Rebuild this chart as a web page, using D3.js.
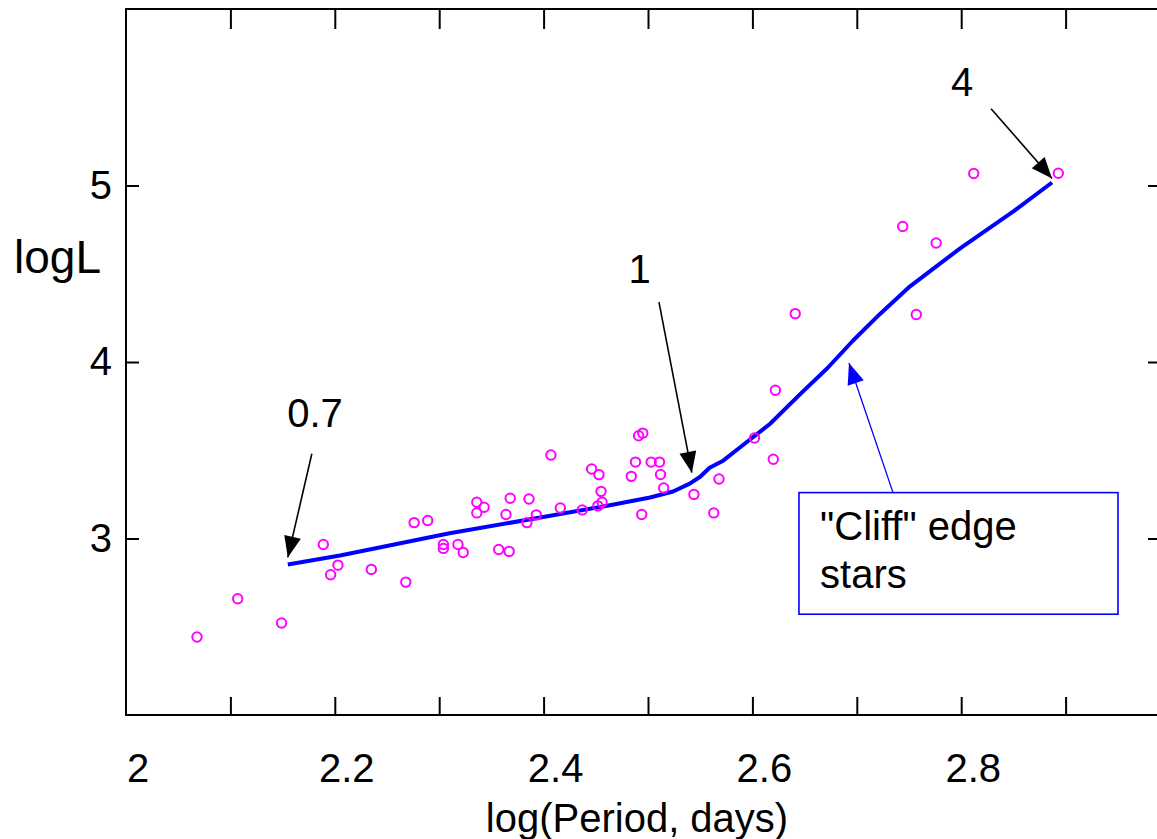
<!DOCTYPE html>
<html lang="en">
<head>
<meta charset="UTF-8">
<title>logL vs log(Period)</title>
<script src="https://d3js.org/d3.v7.min.js"></script>
<style>
  body { margin: 0; padding: 0; background: #fff; }
  svg { display: block; font-family: "Liberation Sans", Arial, Helvetica, sans-serif; }
</style>
</head>
<body>
<svg id="chart" width="1157" height="839"></svg>
<script>
// stars: log(Period, days) and logL
var starLogP = [2.068, 2.107, 2.149, 2.189, 2.203, 2.196, 2.235, 2.268, 2.276, 2.289,
  2.304, 2.304, 2.318, 2.323, 2.357, 2.367, 2.336, 2.343, 2.336, 2.368,
  2.364, 2.386, 2.393, 2.384, 2.407, 2.416, 2.437, 2.446, 2.453, 2.455,
  2.456, 2.452, 2.491, 2.495, 2.488, 2.484, 2.503, 2.511, 2.512, 2.515,
  2.494, 2.544, 2.568, 2.563, 2.602, 2.620, 2.622, 2.641, 2.744, 2.776,
  2.757, 2.812, 2.893];
var starLogL = [2.442, 2.659, 2.521, 2.966, 2.849, 2.795, 2.825, 2.753, 3.090, 3.102,
  2.966, 2.944, 2.966, 2.921, 2.938, 2.927, 3.205, 3.177, 3.145, 3.228,
  3.136, 3.224, 3.134, 3.090, 3.473, 3.173, 3.162, 3.394, 3.362, 3.267,
  3.205, 3.185, 3.582, 3.597, 3.433, 3.352, 3.433, 3.433, 3.363, 3.286,
  3.136, 3.250, 3.337, 3.145, 3.569, 3.449, 3.840, 4.274, 4.768, 4.674,
  4.269, 5.068, 5.069];

// model curve
var curveLogP = [2.155, 2.205, 2.310, 2.397, 2.461, 2.502, 2.524, 2.540, 2.550, 2.559,
  2.572, 2.595, 2.617, 2.646, 2.672, 2.696, 2.722, 2.751, 2.799, 2.850, 2.887];
var curveLogL = [2.853, 2.904, 3.030, 3.119, 3.186, 3.232, 3.266, 3.311, 3.350, 3.401,
  3.441, 3.548, 3.650, 3.819, 3.966, 4.119, 4.271, 4.429, 4.644, 4.853, 5.017];

// tick values
var xMinorTicks = [2.1, 2.2, 2.3, 2.4, 2.5, 2.6, 2.7, 2.8, 2.9];
var xLabelTicks = [2, 2.2, 2.4, 2.6, 2.8];
var yTicks = [3, 4, 5];

// annotations: text, label position, arrow tail, arrow tip (data units)
var annLabels = ["0.7", "1", "4"];
var annText = [[2.181, 3.633], [2.492, 4.446], [2.801, 5.508]];
var annTail = [[2.178, 3.480], [2.5105, 4.339], [2.8286, 5.435]];
var annTip = [[2.155, 2.893], [2.542, 3.373], [2.887, 5.040]];

var cliffLines = ["\"Cliff\" edge", "stars"];
var cliffBox = [2.6446, 3.260, 2.9502, 2.571];
var cliffTextAt = [2.6648, 2.989, 2.718];
var cliffTail = [2.7347, 3.260];
var cliffTip = [2.6925, 3.994];

var svg = d3.select("#chart");
var padLeft = 126, padTop = 9, padBottom = 715, padRight = 1162;

var x = d3.scaleLinear().domain([2, 3]).range([padLeft, 1170]);
var y = d3.scaleLinear().domain([2, 6]).range([padBottom, padTop]);

var defs = svg.append("defs");
function arrowMarker(id, color) {
  defs.append("marker")
    .attr("id", id)
    .attr("markerUnits", "userSpaceOnUse")
    .attr("viewBox", "-22 -10 24 20")
    .attr("refX", 0).attr("refY", 0)
    .attr("markerWidth", 24).attr("markerHeight", 20)
    .attr("orient", "auto")
    .append("path")
    .attr("d", "M0,0 L-21,-8.5 L-21,8.5 Z")
    .attr("fill", color);
}
arrowMarker("head-black", "#000");
arrowMarker("head-blue", "#0000ff");

// frame
svg.append("rect")
  .attr("x", padLeft).attr("y", padTop)
  .attr("width", padRight - padLeft).attr("height", padBottom - padTop)
  .attr("fill", "none").attr("stroke", "#000").attr("stroke-width", 2);

// top ticks
svg.append("g")
  .attr("transform", "translate(0," + padTop + ")")
  .call(d3.axisTop(x).tickValues(xMinorTicks).tickSize(-20).tickFormat(""))
  .call(function(g) { g.select(".domain").remove(); })
  .selectAll("line").attr("stroke-width", 2);

// bottom ticks
svg.append("g")
  .attr("transform", "translate(0," + padBottom + ")")
  .call(d3.axisBottom(x).tickValues(xMinorTicks).tickSize(-18).tickFormat(""))
  .call(function(g) { g.select(".domain").remove(); })
  .selectAll("line").attr("stroke-width", 2);

// bottom labels
svg.append("g")
  .selectAll("text")
  .data(xLabelTicks)
  .enter().append("text")
  .attr("x", function(d) { return x(d) + 12; })
  .attr("y", 782)
  .attr("text-anchor", "middle")
  .style("font-size", "40px")
  .text(function(d) { return d; });

// left axis
svg.append("g")
  .attr("transform", "translate(" + padLeft + ",0)")
  .call(d3.axisLeft(y).tickValues(yTicks).tickFormat(d3.format("d")).tickSize(-13).tickPadding(14))
  .call(function(g) { g.select(".domain").remove(); })
  .call(function(g) { g.selectAll("line").attr("stroke-width", 2); })
  .call(function(g) {
    g.selectAll("text").attr("fill", "#000")
      .style("font-size", "40px")
      .style("font-family", "'Liberation Sans', Arial, sans-serif");
  });

// right ticks
svg.append("g")
  .attr("transform", "translate(" + padRight + ",0)")
  .call(d3.axisRight(y).tickValues(yTicks).tickSize(-14).tickFormat(""))
  .call(function(g) { g.select(".domain").remove(); })
  .selectAll("line").attr("stroke-width", 2);

// axis titles
svg.append("text")
  .attr("x", 14).attr("y", 273)
  .style("font-size", "46px")
  .text("logL");

svg.append("text")
  .attr("x", 637).attr("y", 832)
  .attr("text-anchor", "middle")
  .style("font-size", "40px")
  .text("log(Period, days)");

// model curve
var curve = curveLogP.map(function(d, i) { return [d, curveLogL[i]]; });
svg.append("path")
  .datum(curve)
  .attr("fill", "none")
  .attr("stroke", "#0000ff")
  .attr("stroke-width", 4)
  .attr("stroke-linejoin", "round")
  .attr("d", d3.line()
    .x(function(d) { return x(d[0]); })
    .y(function(d) { return y(d[1]); }));

// stars
svg.append("g")
  .selectAll("circle")
  .data(starLogP)
  .enter().append("circle")
  .attr("cx", function(d) { return x(d); })
  .attr("cy", function(d, i) { return y(starLogL[i]); })
  .attr("r", 4.7)
  .attr("fill", "none")
  .attr("stroke", "#ff00ff")
  .attr("stroke-width", 2);

// mass annotations
annLabels.forEach(function(lab, i) {
  svg.append("text")
    .attr("x", x(annText[i][0])).attr("y", y(annText[i][1]))
    .attr("text-anchor", "middle")
    .style("font-size", "40px")
    .text(lab);
  svg.append("line")
    .attr("x1", x(annTail[i][0])).attr("y1", y(annTail[i][1]))
    .attr("x2", x(annTip[i][0])).attr("y2", y(annTip[i][1]))
    .attr("stroke", "#000").attr("stroke-width", 1.6)
    .attr("marker-end", "url(#head-black)");
});

// "Cliff" edge stars box
svg.append("rect")
  .attr("x", x(cliffBox[0])).attr("y", y(cliffBox[1]))
  .attr("width", x(cliffBox[2]) - x(cliffBox[0]))
  .attr("height", y(cliffBox[3]) - y(cliffBox[1]))
  .attr("fill", "#fff").attr("stroke", "#0000ff").attr("stroke-width", 1.6);

cliffLines.forEach(function(t, i) {
  svg.append("text")
    .attr("x", x(cliffTextAt[0])).attr("y", y(cliffTextAt[i + 1]))
    .style("font-size", "40px")
    .text(t);
});

svg.append("line")
  .attr("x1", x(cliffTail[0])).attr("y1", y(cliffTail[1]))
  .attr("x2", x(cliffTip[0])).attr("y2", y(cliffTip[1]))
  .attr("stroke", "#0000ff").attr("stroke-width", 1.3)
  .attr("marker-end", "url(#head-blue)");
</script>
</body>
</html>
